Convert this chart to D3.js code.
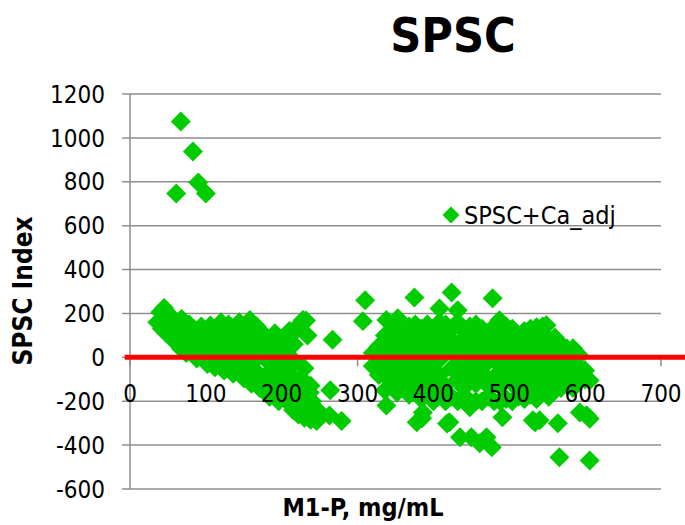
<!DOCTYPE html>
<html>
<head>
<meta charset="utf-8">
<script src="https://cdn.jsdelivr.net/npm/d3@7"></script>
<style>
  html, body { margin: 0; padding: 0; background: #fff; }
  svg { display: block; }
  text { font-family: "DejaVu Sans Condensed", "DejaVu Sans", sans-serif; font-stretch: condensed; }
</style>
</head>
<body>
<svg id="chart" width="685" height="525"></svg>
<script>
// Chart text
const chartTitle = "SPSC";
const xTitle = "M1-P, mg/mL";
const yTitle = "SPSC Index";
const seriesName = "SPSC+Ca_adj";

// Axis ticks
const xTicks = [0, 100, 200, 300, 400, 500, 600, 700];
const yTicks = [-600, -400, -200, 0, 200, 400, 600, 800, 1000, 1200];

// Zero reference line (M1-P range it spans, SPSC Index value)
const zeroLine = [[-7, 0], [760, 0]];

// SPSC+Ca_adj observations: [M1-P, SPSC Index]
const highOutliers = [
  [67, 1075], [83, 938], [90, 797], [100, 747], [61, 747]
];

const lowRange = [
  [36,160],[40,205],[42,130],[45,225],[46,175],[48,110],[50,195],[52,150],[54,90],[56,180],
  [58,125],[60,160],[60,70],[63,105],[65,140],[67,40],[68,175],[70,90],[72,125],[74,20],
  [76,60],[78,150],[80,100],[82,35],[84,130],[86,70],[88,-5],[90,110],[92,45],[94,140],
  [96,80],[98,10],[100,120],[102,-30],[104,60],[106,145],[108,20],[110,90],[112,-45],[114,130],
  [116,40],[118,-10],[120,160],[122,75],[124,-60],[126,110],[128,20],[130,150],[132,-30],[134,60],
  [136,-75],[138,130],[140,95],[142,10],[144,160],[146,-50],[148,50],[150,-95],[152,120],[154,80],
  [156,-10],[158,170],[160,-120],[160,30],[163,100],[165,-60],[167,140],[169,0],[171,-140],[173,60],
  [175,110],[177,-90],[179,20],[181,-160],[183,80],[185,-30],[187,-120],[189,40],[191,110],[193,-70],
  [195,-170],[197,10],[199,-110],[200,80],[202,-40],[204,-190],[206,20],[208,-130],[210,120],[212,-80],
  [214,-210],[216,60],[218,-20],[220,-160],[222,145],[224,-100],[226,-230],[228,170],[230,-50],[232,-180],
  [234,100],[236,-250],[238,-130],[240,-200],[205,70],[212,100],[232,168],[190,0],
  [215,-240],[222,-260],[230,-275],[238,-285],[250,-250],[210,-180],[196,-200],[184,-180],
  [246,-290],[263,-265],[279,-290],[237,-160],[227,-100],[264,-150],[267,80]
];

const highRange = [
  [310,260],[307,165],[338,170],[353,178],[375,273],[408,223],[424,296],[432,214],[478,269],[487,169],
  [536,137],[549,146],[584,41],[560,45],
  [320,-40],[320,20],[328,-80],[328,50],[328,-10],[336,-150],[336,100],[336,0],[336,-60],
  [344,120],[344,40],[344,-110],[344,-30],[352,150],[352,-160],[352,70],[352,-60],[352,10],
  [360,-130],[360,110],[360,30],[360,-80],[360,-20],[368,140],[368,-170],[368,60],[368,-40],[368,10],[368,-110],
  [376,100],[376,-150],[376,20],[376,-70],[376,150],[384,-190],[384,130],[384,50],[384,-20],[384,-100],
  [392,90],[392,-160],[392,0],[392,-60],[392,150],[400,-200],[400,120],[400,40],[400,-120],[400,-30],
  [408,160],[408,-170],[408,70],[408,-10],[408,-80],[416,-200],[416,110],[416,20],[416,-130],[416,150],
  [424,80],[424,-180],[424,-50],[424,30],[424,130],[432,-200],[432,160],[432,0],[432,-100],[432,60],
  [440,120],[440,-190],[440,-40],[440,40],[440,-140],[448,-200],[448,90],[448,10],[448,-80],[448,140],
  [456,150],[456,-200],[456,-30],[456,60],[456,-120],[464,-200],[464,110],[464,20],[464,-70],[464,130],
  [472,80],[472,-180],[472,-20],[472,40],[472,-130],[480,-200],[480,140],[480,0],[480,-90],[480,60],
  [488,120],[488,-200],[488,-40],[488,30],[488,-130],[496,-190],[496,90],[496,10],[496,-80],[496,140],
  [504,130],[504,-200],[504,-30],[504,50],[504,-120],[512,-180],[512,100],[512,0],[512,-70],[512,60],
  [520,120],[520,-190],[520,-40],[520,20],[520,-130],[528,-170],[528,80],[528,10],[528,-90],[528,130],
  [536,60],[536,-190],[536,-30],[536,100],[536,-120],[544,-160],[544,110],[544,20],[544,-60],[544,140],
  [552,70],[552,-180],[552,-20],[552,40],[552,-110],[560,-150],[560,90],[560,0],[560,-70],[560,50],
  [568,30],[568,-140],[568,-30],[568,-90],[568,60],[576,-120],[576,20],[576,-60],[576,40],
  [584,-90],[584,0],[584,-140],[584,30],[592,-50],[592,-110],[592,10],[600,-100],[600,-60],
  [338,-219],[385,-278],[378,-296],[386,-251],[418,-301],[421,-296],[435,-364],[450,-364],[461,-392],
  [470,-364],[477,-410],[448,-228],[491,-273],[531,-287],[534,-296],[540,-287],[566,-455],[564,-300],
  [602,-264],[606,-280],[593,-251],[606,-470],[606,-105],[593,-46]
];

const observations = highOutliers.concat(lowRange, highRange);

// Layout
const svg = d3.select("#chart");
const x = d3.scaleLinear().domain([0, 700]).range([130, 661]);
const y = d3.scaleLinear().domain([-600, 1200]).range([489, 94]);
const gridColor = "#8e8e8e";
const markerColor = "#00cc00";

// Horizontal gridlines with outward tick marks on the value axis
svg.append("g")
  .selectAll("line")
  .data(yTicks.filter(t => t !== 0))
  .join("line")
  .attr("x1", x(0) - 8)
  .attr("x2", x(700))
  .attr("y1", d => y(d))
  .attr("y2", d => y(d))
  .attr("stroke", gridColor)
  .attr("stroke-width", 1.5);

// Value axis line
svg.append("line")
  .attr("x1", x(0)).attr("x2", x(0))
  .attr("y1", y(-600)).attr("y2", y(1200))
  .attr("stroke", gridColor).attr("stroke-width", 1.5);

// Category axis crossing at zero, ticks pointing down
svg.append("line")
  .attr("x1", x(0) - 8).attr("x2", x(700))
  .attr("y1", y(0)).attr("y2", y(0))
  .attr("stroke", gridColor).attr("stroke-width", 1.5);
svg.append("g")
  .selectAll("line")
  .data(xTicks)
  .join("line")
  .attr("x1", d => x(d)).attr("x2", d => x(d))
  .attr("y1", y(0)).attr("y2", y(0) + 9)
  .attr("stroke", gridColor).attr("stroke-width", 1.5);

// Scatter markers (diamonds)
const diamond = d3.symbol().type(d3.symbolSquare).size(200);
svg.append("g")
  .selectAll("path")
  .data(observations)
  .join("path")
  .attr("d", diamond)
  .attr("transform", d => `translate(${x(d[0])},${y(d[1])}) rotate(45)`)
  .attr("fill", markerColor);

// Red zero line
svg.append("path")
  .datum(zeroLine)
  .attr("d", d3.line().x(d => x(d[0])).y(d => y(d[1])))
  .attr("stroke", "#ff0000")
  .attr("stroke-width", 5)
  .attr("fill", "none");

// Tick labels
svg.append("g")
  .selectAll("text")
  .data(yTicks)
  .join("text")
  .attr("x", 105)
  .attr("y", d => y(d))
  .attr("dy", "0.36em")
  .attr("text-anchor", "end")
  .attr("font-size", 24)
  .attr("fill", "#000")
  .text(d => d);

svg.append("g")
  .selectAll("text")
  .data(xTicks)
  .join("text")
  .attr("x", d => x(d))
  .attr("y", 402)
  .attr("text-anchor", "middle")
  .attr("font-size", 24)
  .attr("fill", "#000")
  .text(d => d);

// Titles
svg.append("text")
  .attr("x", 453).attr("y", 52)
  .attr("text-anchor", "middle")
  .attr("font-size", 48).attr("font-weight", "bold")
  .text(chartTitle);

svg.append("text")
  .attr("x", 363).attr("y", 516)
  .attr("text-anchor", "middle")
  .attr("font-size", 25).attr("font-weight", "bold")
  .text(xTitle);

svg.append("text")
  .attr("transform", "translate(32,291) rotate(-90)")
  .attr("text-anchor", "middle")
  .attr("font-size", 26).attr("font-weight", "bold")
  .text(yTitle);

// Legend
const legend = svg.append("g").attr("transform", "translate(451,215)");
legend.append("path")
  .attr("d", d3.symbol().type(d3.symbolSquare).size(144))
  .attr("transform", "rotate(45)")
  .attr("fill", markerColor);
legend.append("text")
  .attr("x", 13).attr("y", 9)
  .attr("font-size", 25)
  .text(seriesName);
</script>
</body>
</html>
